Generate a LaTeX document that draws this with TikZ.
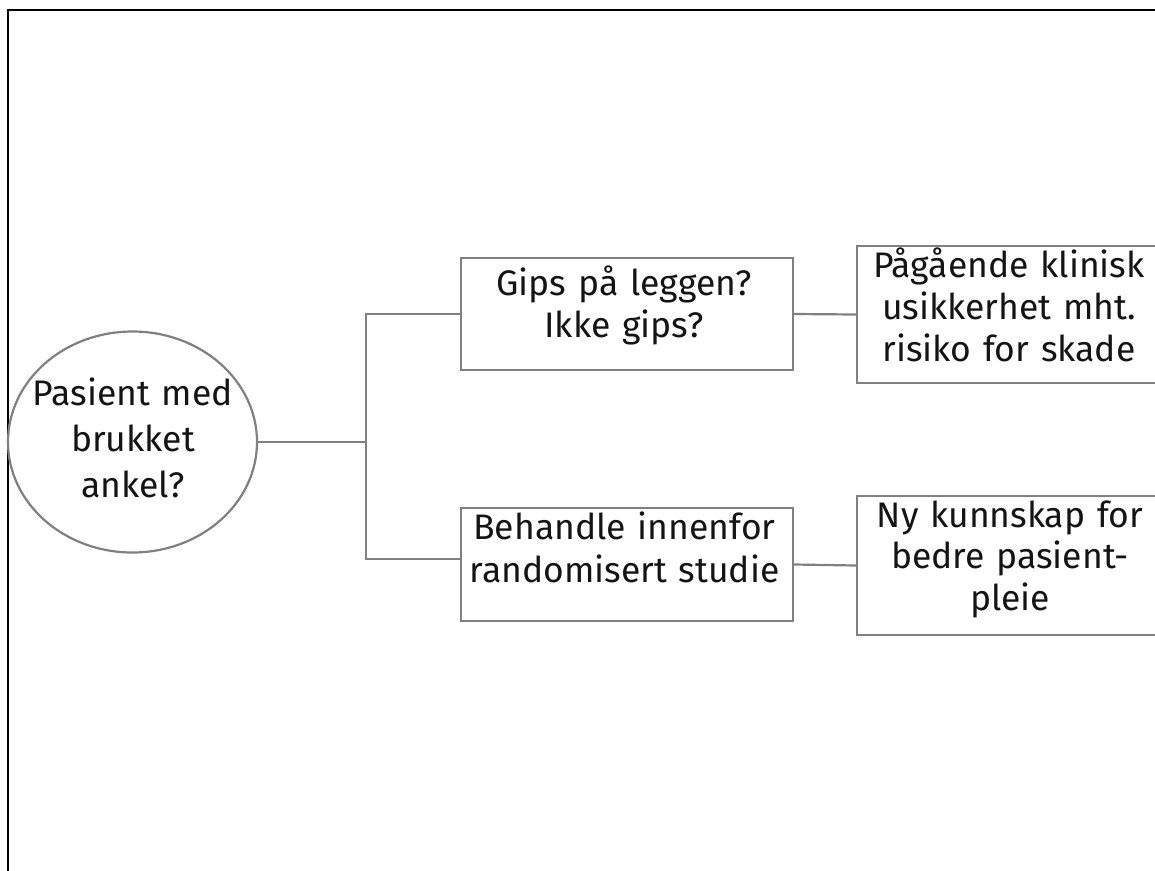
\documentclass[tikz,border=0pt]{standalone}
\usepackage{fontspec}
\usetikzlibrary{shapes.geometric}
\setmainfont{Fira Sans}
\definecolor{linegray}{RGB}{128,128,128}
\definecolor{txt}{RGB}{20,20,20}
\begin{document}
\begin{tikzpicture}[x=1pt,y=-1pt,
  conn/.style={draw=linegray,line width=2.2pt},
  boxnode/.style={draw=linegray,line width=2.2pt,fill=white,minimum width=#1,inner sep=0pt},
  lbl/.style={text=txt,font=\fontsize{35.5}{42}\selectfont,align=center,text width=360pt,anchor=base,inner sep=0pt}
]
\useasboundingbox (0,0) rectangle (1155,870);
\clip (0,0) rectangle (1155,870);
\fill[white] (0,0) rectangle (1155,870);
% frame
\draw[black,line width=2.6pt] (1160,10) -- (8,10) -- (8,875);
% circle
\node[draw=linegray,line width=2.2pt,ellipse,minimum width=249pt,minimum height=221pt,inner sep=0pt] (circ) at (132.5,442) {};
\node[lbl,font=\fontsize{35.5}{46}\selectfont] (circtxt) at (133,405) {Pasient med\\brukket\\ankel?};
% middle boxes
\node[boxnode=332pt,minimum height=112pt] (top) at (627,314) {};
\node[lbl] (toptxt) at (624,295) {Gips på leggen?\\Ikke gips?};
\node[boxnode=332pt,minimum height=113pt] (bot) at (627,564.5) {};
\node[lbl,font=\fontsize{35.5}{43}\selectfont] (bottxt) at (624.5,539) {Behandle innenfor\\randomisert studie};
% right boxes
\node[boxnode=304pt,minimum height=137pt] (rtop) at (1009,314.5) {};
\node[lbl] (rtoptxt) at (1009,277) {Pågående klinisk\\usikkerhet mht.\\risiko for skade};
\node[boxnode=304pt,minimum height=139pt] (rbot) at (1009,565.5) {};
\node[lbl,font=\fontsize{35.5}{41.5}\selectfont] (rbottxt) at (1010,527) {Ny kunnskap for\\bedre pasient-\\pleie};
% connectors
\coordinate (split) at (366,442);
\draw[conn] (circ.east) -- (split);
\draw[conn] (top.west) -| (split) |- ([yshift=5.5pt]bot.west);
\draw[conn] (top.east) -- (rtop.west);
\draw[conn] (bot.east) -- (rbot.west);
\end{tikzpicture}
\end{document}
